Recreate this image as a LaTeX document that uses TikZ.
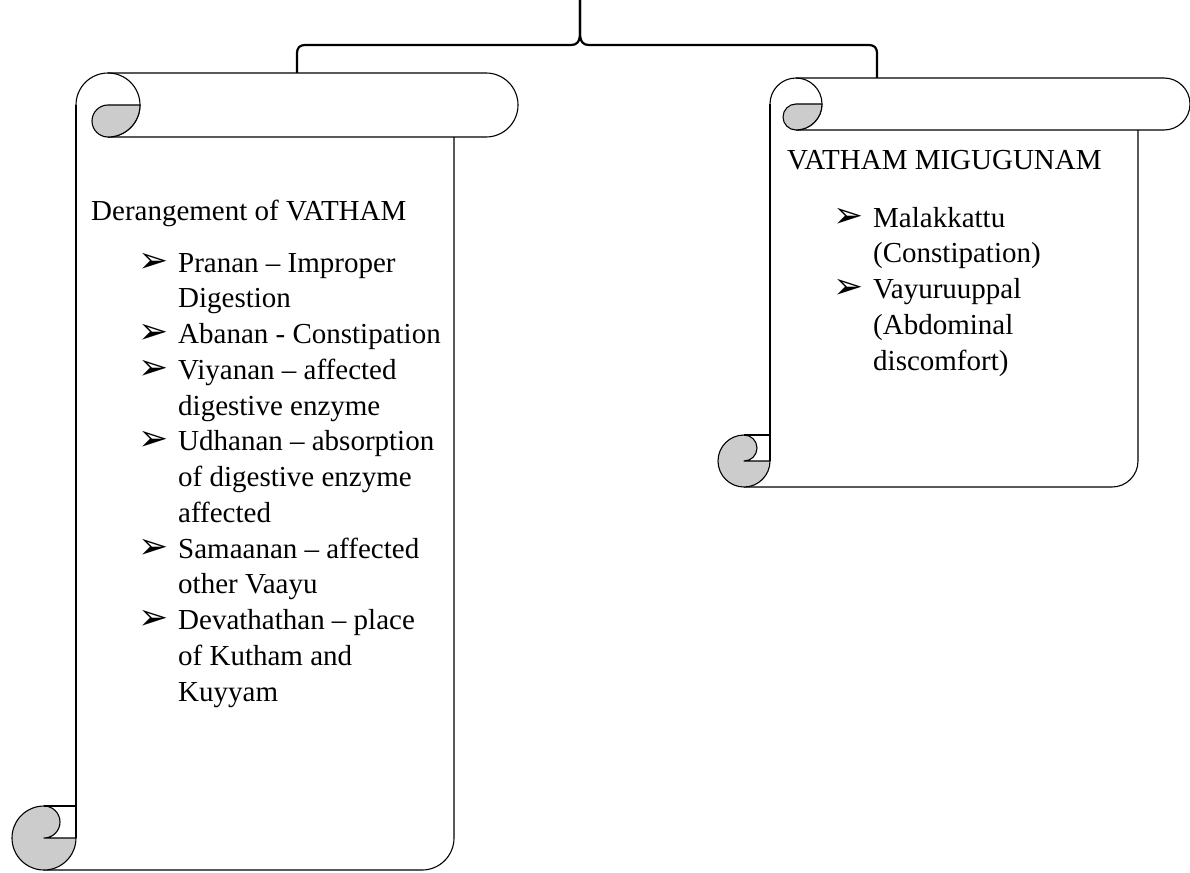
\documentclass[tikz,border=0pt]{standalone}
\usepackage{fontspec}
\setmainfont{Liberation Serif}
\newfontfamily\symfont{DejaVu Sans}
\newcommand{\itembul}{\makebox[40pt][l]{\smash{\symfont\fontsize{36}{36}\selectfont ➢}}}
\newcommand{\itemind}{\hspace*{40pt}}

\begin{document}
\begin{tikzpicture}[x=1pt,y=-1pt]
\tikzstyle{scrollline}=[draw=black, line width=1.1pt, line join=round]
\tikzstyle{curl}=[scrollline, fill=gray!40]
\tikzstyle{bracket}=[line width=2.2pt, line join=round]
\tikzstyle{every node}=[inner sep=0pt, font=\fontsize{29}{35.75}\selectfont]
\tikzstyle{txt}=[anchor=base west, align=left]
\useasboundingbox (0,0) rectangle (1190,872);

% scrolls: body left / body right / top / bottom / roll radius
\foreach \L/\R/\T/\B/\rad in {76/454/73/870/32, 770/1138/78/487/26}{
  \draw[scrollline] (\L+\rad,\T) -- (\R+\rad,\T) arc (-90:90:\rad) -- (\L+\rad,\T+2*\rad);
  \draw[scrollline] (\L,\T+\rad) arc (180:450:\rad);
  \draw[curl] (\L+\rad,\T+\rad) -- (\L+2*\rad,\T+\rad) arc (0:90:\rad) arc (90:270:\rad/2) -- cycle;
  \draw[scrollline] (\L,\T+\rad) -- (\L,\B-\rad);
  \draw[scrollline] (\R,\T+2*\rad) -- (\R,\B-\rad) arc (0:90:\rad) -- (\L-\rad,\B);
  \draw[curl] (\L-\rad,\B-2*\rad) arc (-90:90:\rad/2) -- (\L,\B-\rad) arc (0:270:\rad) -- cycle;
  \draw[scrollline] (\L-\rad,\B-2*\rad) -- (\L,\B-2*\rad);
}

% brace over both scrolls
\coordinate (lefttop) at (297,73);
\coordinate (righttop) at (877,78);
\coordinate (tip) at (580,0);
\draw[bracket] (lefttop) -- (297,55) .. controls (297,47) and (299,45) .. (307,45) -- (571,45)
  .. controls (577,45) and (580,42) .. (580,32) -- (tip);
\draw[bracket] (tip) -- (580,32) .. controls (580,42) and (583,45) .. (589,45) -- (867,45)
  .. controls (875,45) and (877,47) .. (877,55) -- (righttop);

% texts (base anchor sits on the last line)
\node[txt] (lefthead) at (91,220) {Derangement of VATHAM};
\node[txt] (leftlist) at (138,701) {\itembul Pranan – Improper\\
  \itemind Digestion\\
  \itembul Abanan - Constipation\\
  \itembul Viyanan – affected\\
  \itemind digestive enzyme\\
  \itembul Udhanan – absorption\\
  \itemind of digestive enzyme\\
  \itemind affected\\
  \itembul Samaanan – affected\\
  \itemind other Vaayu\\
  \itembul Devathathan – place\\
  \itemind of Kutham and\\
  \itemind Kuyyam};
\node[txt] (righthead) at (787,169) {VATHAM MIGUGUNAM};
\node[txt] (rightlist) at (833,370) {\itembul Malakkattu\\
  \itemind (Constipation)\\
  \itembul Vayuruuppal\\
  \itemind (Abdominal\\
  \itemind discomfort)};
\end{tikzpicture}
\end{document}
